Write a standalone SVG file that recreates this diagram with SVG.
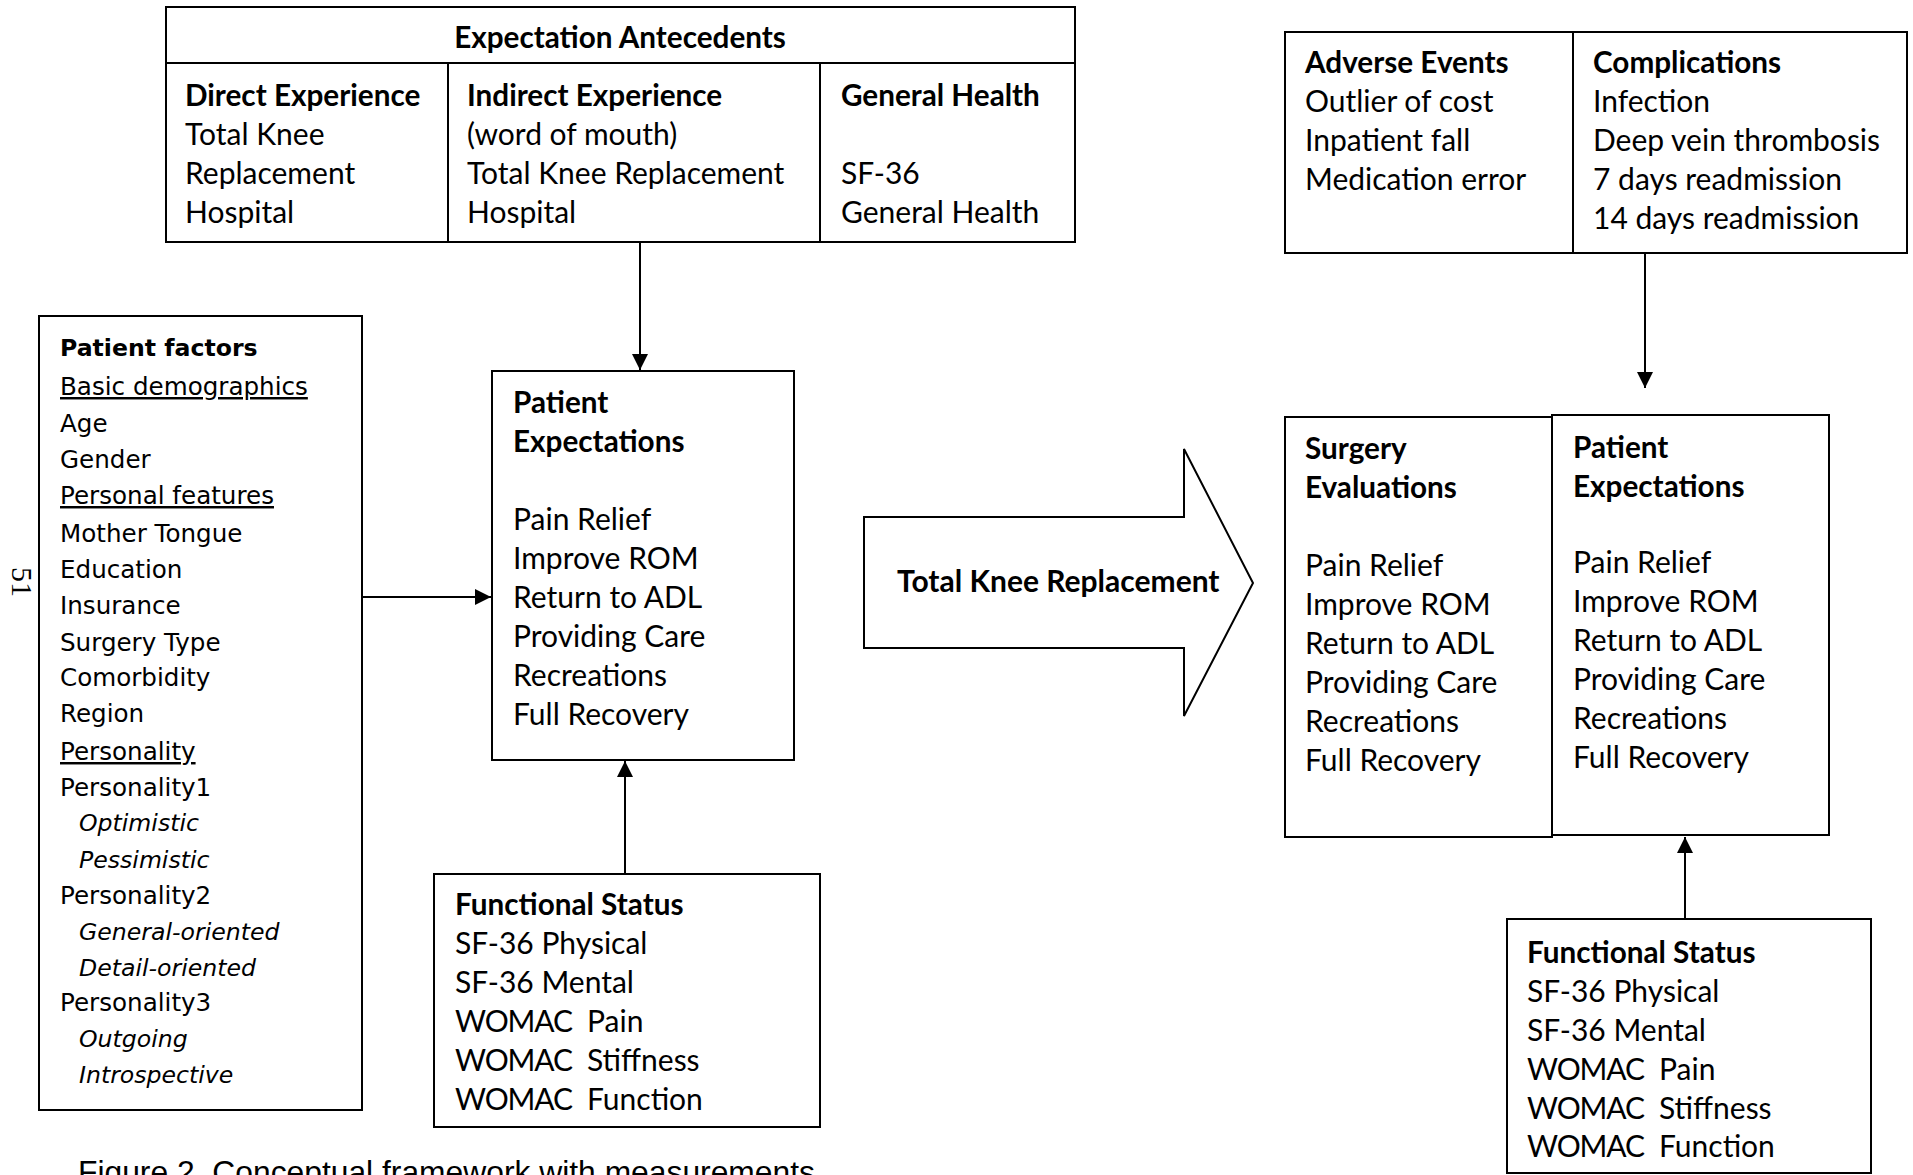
<svg xmlns="http://www.w3.org/2000/svg" width="1913" height="1175" viewBox="0 0 1913 1175">
<style>
.box{fill:#fff;stroke:#000;stroke-width:2}
.ln{fill:none;stroke:#000;stroke-width:2}
.t{font-family:Lato,"Liberation Sans",sans-serif;font-size:30px;fill:#000}
.b{font-weight:bold;font-size:29.7px}
.v{font-family:"DejaVu Sans",Verdana,sans-serif;font-size:24.6px;fill:#000}
.vb{font-weight:bold;font-size:23.6px}
.i{font-style:italic;font-size:23.6px}
.u{text-decoration:underline}
.cap{font-family:"Liberation Sans",Arial,sans-serif;font-size:31.8px;fill:#000}
.pg{font-family:"Liberation Serif","Times New Roman",serif;font-size:30px;fill:#000}
</style>
<defs>
<marker id="ah" markerUnits="userSpaceOnUse" markerWidth="18" markerHeight="18" refX="16" refY="8" orient="auto">
<path d="M0,0 L16,8 L0,16 z" fill="#000"/>
</marker>
</defs>

<text class="pg" transform="translate(12,567) rotate(90)">51</text>

<g id="antecedents">
<rect class="box" x="166" y="7" width="909" height="235"/>
<line class="ln" x1="166" y1="63" x2="1075" y2="63"/>
<line class="ln" x1="448" y1="63" x2="448" y2="242"/>
<line class="ln" x1="820" y1="63" x2="820" y2="242"/>
<text class="t b" x="620" y="48" text-anchor="middle">Expectation Antecedents</text>
<text class="t b" x="185" y="106">Direct Experience</text>
<text class="t" x="185" y="145">Total Knee</text>
<text class="t" x="185" y="184">Replacement</text>
<text class="t" x="185" y="223">Hospital</text>
<text class="t b" x="467" y="106">Indirect Experience</text>
<text class="t" x="467" y="145">(word of mouth)</text>
<text class="t" x="467" y="184">Total Knee Replacement</text>
<text class="t" x="467" y="223">Hospital</text>
<text class="t b" x="841" y="106">General Health</text>
<text class="t" x="841" y="184">SF-36</text>
<text class="t" x="841" y="223">General Health</text>
</g>

<g id="patient-factors">
<rect class="box" x="39" y="316" width="323" height="794"/>
<text class="v vb" x="60" y="356">Patient factors</text>
<text class="v u" x="60" y="395">Basic demographics</text>
<text class="v" x="60" y="432">Age</text>
<text class="v" x="60" y="468">Gender</text>
<text class="v u" x="60" y="504">Personal features</text>
<text class="v" x="60" y="542">Mother Tongue</text>
<text class="v" x="60" y="578">Education</text>
<text class="v" x="60" y="614">Insurance</text>
<text class="v" x="60" y="651">Surgery Type</text>
<text class="v" x="60" y="686">Comorbidity</text>
<text class="v" x="60" y="722">Region</text>
<text class="v u" x="60" y="760">Personality</text>
<text class="v" x="60" y="796">Personality1</text>
<text class="v i" x="79" y="831">Optimistic</text>
<text class="v i" x="79" y="868">Pessimistic</text>
<text class="v" x="60" y="904">Personality2</text>
<text class="v i" x="79" y="940">General-oriented</text>
<text class="v i" x="79" y="976">Detail-oriented</text>
<text class="v" x="60" y="1011">Personality3</text>
<text class="v i" x="79" y="1047">Outgoing</text>
<text class="v i" x="79" y="1083">Introspective</text>
</g>

<g id="patient-expectations-pre">
<rect class="box" x="492" y="371" width="302" height="389"/>
<text class="t b" x="513" y="413">Patient</text>
<text class="t b" x="513" y="452">Expectations</text>
<text class="t" x="513" y="530">Pain Relief</text>
<text class="t" x="513" y="569">Improve ROM</text>
<text class="t" x="513" y="608">Return to ADL</text>
<text class="t" x="513" y="647">Providing Care</text>
<text class="t" x="513" y="686">Recreations</text>
<text class="t" x="513" y="725">Full Recovery</text>
</g>

<g id="functional-status-pre">
<rect class="box" x="434" y="874" width="386" height="253"/>
<text class="t b" x="455" y="915">Functional Status</text>
<text class="t" x="455" y="954">SF-36 Physical</text>
<text class="t" x="455" y="993">SF-36 Mental</text>
<text class="t" y="1032"><tspan x="455" textLength="118">WOMAC</tspan><tspan x="587">Pain</tspan></text>
<text class="t" y="1071"><tspan x="455" textLength="118">WOMAC</tspan><tspan x="587">Stiffness</tspan></text>
<text class="t" y="1110"><tspan x="455" textLength="118">WOMAC</tspan><tspan x="587">Function</tspan></text>
</g>

<g id="tkr-arrow">
<polygon class="box" points="864,517 1184,517 1184,449 1253,583 1184,716 1184,648 864,648"/>
<text class="t b" x="897" y="592" style="font-size:30px">Total Knee Replacement</text>
</g>

<g id="adverse-complications">
<rect class="box" x="1285" y="32" width="622" height="221"/>
<line class="ln" x1="1573" y1="32" x2="1573" y2="253"/>
<text class="t b" x="1305" y="73">Adverse Events</text>
<text class="t" x="1305" y="112">Outlier of cost</text>
<text class="t" x="1305" y="151">Inpatient fall</text>
<text class="t" x="1305" y="190">Medication error</text>
<text class="t b" x="1593" y="73">Complications</text>
<text class="t" x="1593" y="112">Infection</text>
<text class="t" x="1593" y="151">Deep vein thrombosis</text>
<text class="t" x="1593" y="190">7 days readmission</text>
<text class="t" x="1593" y="229">14 days readmission</text>
</g>

<g id="surgery-evaluations">
<rect class="box" x="1285" y="417" width="267" height="420"/>
<text class="t b" x="1305" y="459">Surgery</text>
<text class="t b" x="1305" y="498">Evaluations</text>
<text class="t" x="1305" y="576">Pain Relief</text>
<text class="t" x="1305" y="615">Improve ROM</text>
<text class="t" x="1305" y="654">Return to ADL</text>
<text class="t" x="1305" y="693">Providing Care</text>
<text class="t" x="1305" y="732">Recreations</text>
<text class="t" x="1305" y="771">Full Recovery</text>
</g>

<g id="patient-expectations-post">
<rect class="box" x="1552" y="415" width="277" height="420"/>
<text class="t b" x="1573" y="458">Patient</text>
<text class="t b" x="1573" y="497">Expectations</text>
<text class="t" x="1573" y="573">Pain Relief</text>
<text class="t" x="1573" y="612">Improve ROM</text>
<text class="t" x="1573" y="651">Return to ADL</text>
<text class="t" x="1573" y="690">Providing Care</text>
<text class="t" x="1573" y="729">Recreations</text>
<text class="t" x="1573" y="768">Full Recovery</text>
</g>

<g id="functional-status-post">
<rect class="box" x="1507" y="919" width="364" height="254"/>
<text class="t b" x="1527" y="963">Functional Status</text>
<text class="t" x="1527" y="1002">SF-36 Physical</text>
<text class="t" x="1527" y="1041">SF-36 Mental</text>
<text class="t" y="1080"><tspan x="1527" textLength="118">WOMAC</tspan><tspan x="1659">Pain</tspan></text>
<text class="t" y="1119"><tspan x="1527" textLength="118">WOMAC</tspan><tspan x="1659">Stiffness</tspan></text>
<text class="t" y="1157"><tspan x="1527" textLength="118">WOMAC</tspan><tspan x="1659">Function</tspan></text>
</g>

<g id="connectors">
<line class="ln" x1="640" y1="243" x2="640" y2="370" marker-end="url(#ah)"/>
<line class="ln" x1="363" y1="597" x2="491" y2="597" marker-end="url(#ah)"/>
<line class="ln" x1="625" y1="873" x2="625" y2="761" marker-end="url(#ah)"/>
<line class="ln" x1="1645" y1="254" x2="1645" y2="388" marker-end="url(#ah)"/>
<line class="ln" x1="1685" y1="918" x2="1685" y2="837" marker-end="url(#ah)"/>
</g>

<text class="cap" x="78" y="1183">Figure 2. Conceptual framework with measurements</text>
</svg>
